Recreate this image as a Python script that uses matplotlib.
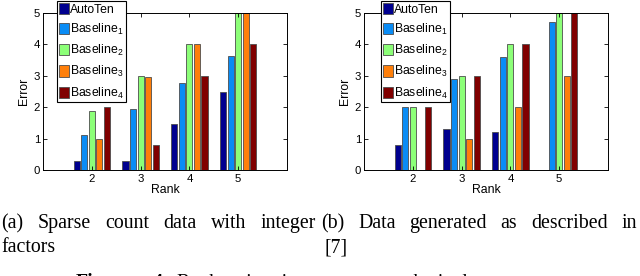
import numpy as np
import matplotlib
matplotlib.use('Agg')
import matplotlib.pyplot as plt

# data
ranks = [2, 3, 4, 5]
series_names = ['AutoTen', 'Baseline$_1$', 'Baseline$_2$', 'Baseline$_3$', 'Baseline$_4$']
colors = ['#00008f', '#0a8cf5', '#8cff78', '#ff7f0a', '#800000']

# (a) sparse count data
err_a_autoten = [0.3, 0.3, 1.47, 2.5]
err_a_base1 = [1.12, 1.93, 2.78, 3.62]
err_a_base2 = [1.87, 3.0, 4.0, 5.0]
err_a_base3 = [1.0, 2.97, 4.0, 5.0]
err_a_base4 = [2.0, 0.8, 3.0, 4.0]

# (b) data generated as in [7]
err_b_autoten = [0.8, 1.3, 1.2, 0.0]
err_b_base1 = [2.0, 2.9, 3.6, 4.7]
err_b_base2 = [2.0, 3.0, 4.0, 5.0]
err_b_base3 = [0.0, 1.0, 2.0, 3.0]
err_b_base4 = [2.0, 3.0, 4.0, 5.0]

caption_a = ['(a)', 'Sparse', 'count', 'data', 'with', 'integer']
caption_b = ['(b)', 'Data', 'generated', 'as', 'described', 'in']

W, H = 640, 276
plt.rcParams['font.family'] = ['Liberation Sans', 'DejaVu Sans']
plt.rcParams['mathtext.fontset'] = 'custom'
plt.rcParams['mathtext.rm'] = 'Liberation Sans'
plt.rcParams['mathtext.it'] = 'Liberation Sans'
fig = plt.figure(figsize=(W / 100, H / 100), dpi=100)


def draw_panel(left, series):
    ax = fig.add_axes([left / W, 1 - 170 / H, 244 / W, 157 / H])
    x = np.array(ranks, dtype=float)
    handles = []
    for i, vals in enumerate(series):
        b = ax.bar(x + (i - 2) * 0.155, vals, width=0.125, color=colors[i],
                   edgecolor='0.3', linewidth=0.6, label=series_names[i])
        handles.append(b)
    ax.set_xlim(1, 6)
    ax.set_ylim(0, 5)
    ax.set_xticks(ranks)
    ax.set_yticks(range(6))
    ax.tick_params(direction='in', length=3, width=0.6, labelsize=8.2,
                   top=True, right=True, pad=2)
    ax.tick_params(axis='x', pad=3)
    for s in ax.spines.values():
        s.set_linewidth(0.7)
    ax.set_xlabel('Rank', fontsize=8.8, labelpad=0)
    ax.set_ylabel('Error', fontsize=8.8, labelpad=3)
    return ax, handles


def add_legend(ax, handles, xpix):
    leg = ax.legend(handles=handles, loc='upper left',
                    bbox_to_anchor=(xpix / W, 1 - 1 / H), bbox_transform=fig.transFigure,
                    fontsize=8.8, frameon=True, fancybox=False, framealpha=1,
                    edgecolor='black', handlelength=0.85, handleheight=1.05,
                    labelspacing=0.5, handletextpad=0.1, borderpad=0.15,
                    borderaxespad=0)
    leg.get_frame().set_linewidth(0.8)


ax_a, h_a = draw_panel(43, [err_a_autoten, err_a_base1, err_a_base2, err_a_base3, err_a_base4])
add_legend(ax_a, h_a, 57)
ax_b, h_b = draw_panel(364, [err_b_autoten, err_b_base1, err_b_base2, err_b_base3, err_b_base4])
add_legend(ax_b, h_b, 381)

# captions, justified across each column
serif = ['Liberation Serif', 'DejaVu Serif']
renderer = fig.canvas.get_renderer()


def justify(words, x0, x1, ybase):
    texts = [fig.text(0, 1 - ybase / H, w, fontsize=14.3, family=serif, va='baseline')
             for w in words]
    widths = [t.get_window_extent(renderer).width for t in texts]
    gap = (x1 - x0 - sum(widths)) / (len(words) - 1)
    xpos = x0
    for t, w in zip(texts, widths):
        t.set_x(xpos / W)
        xpos += w + gap


justify(caption_a, 1, 316, 228)
justify(caption_b, 321, 637, 228)
fig.text(1 / W, 1 - 252 / H, 'factors', fontsize=14.3, family=serif, va='baseline')
fig.text(325 / W, 1 - 252 / H, '[7]', fontsize=14.3, family=serif, va='baseline')

# figure caption, mostly below the bottom edge as in the source
fig.text(76 / W, 1 - 288 / H, 'Figure', fontsize=14.3, family=serif,
         fontweight='bold', va='baseline')
fig.text(153 / W, 1 - 288 / H, '4:', fontsize=14.3, family=serif,
         fontweight='bold', va='baseline')
fig.text(177 / W, 1 - 288 / H, 'Rank estimation error on synthetic data',
         fontsize=14.3, family=serif, va='baseline')

fig.savefig('out.png', dpi=100)
